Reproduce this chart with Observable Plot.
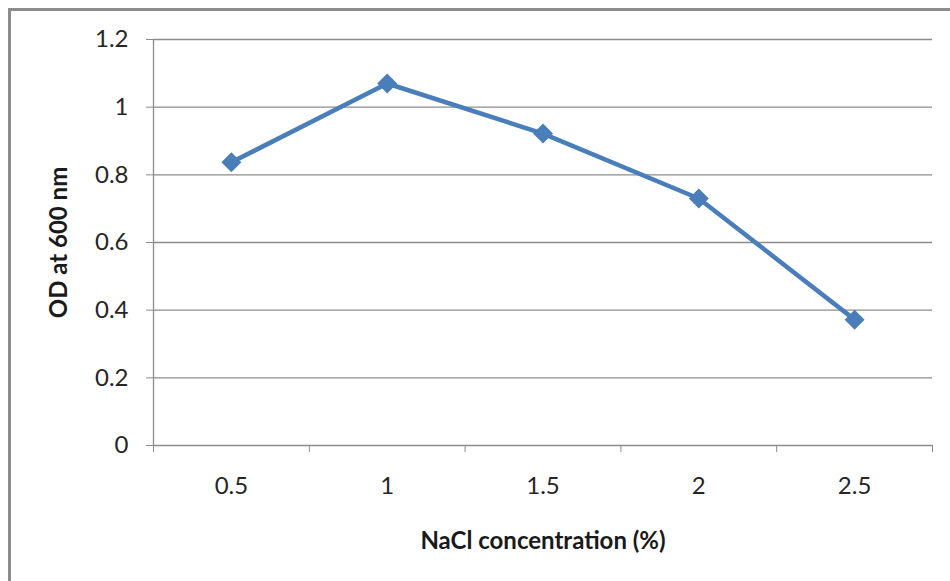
<!DOCTYPE html>
<html>
<head>
<meta charset="utf-8">
<script src="https://cdn.jsdelivr.net/npm/d3@7"></script>
<script src="https://cdn.jsdelivr.net/npm/@observablehq/plot@0.6"></script>
<style>
  html, body { margin: 0; padding: 0; background: #fff; }
  #chart { position: relative; width: 950px; height: 581px; }
  #frame { position: absolute; left: 8px; top: 8px; width: 950px; height: 600px;
           border-left: 3px solid #8c8c8c; border-top: 3px solid #8c8c8c; box-sizing: border-box; pointer-events: none; }
</style>
</head>
<body>
<div id="chart"><div id="frame"></div></div>
<script>
const categories = [0.5, 1, 1.5, 2, 2.5];
const odValues = [0.837, 1.07, 0.922, 0.73, 0.372];
const yTicks = [0, 0.2, 0.4, 0.6, 0.8, 1, 1.2];
const xBoundaries = [0.25, 0.75, 1.25, 1.75, 2.25, 2.75];
const xTitle = "NaCl concentration (%)";
const yTitle = "OD at 600 nm";

const data = categories.map((c, i) => ({x: c, y: odValues[i]}));
const blue = "#4a7ebb";
const font = "Lato, 'Open Sans', sans-serif";

const chart = Plot.plot({
  width: 950,
  height: 581,
  marginLeft: 153,
  marginRight: 18,
  marginTop: 39,
  marginBottom: 136,
  style: {fontFamily: font, fontSize: "24px", color: "#262626", background: "transparent"},
  x: {domain: [0.25, 2.75], axis: null},
  y: {domain: [0, 1.2], axis: null},
  marks: [
    Plot.ruleY(yTicks, {y: d => d, stroke: "#8c8c8c", strokeWidth: 1.3}),
    Plot.ruleX([0.25], {stroke: "#8c8c8c", strokeWidth: 1.3}),
    Plot.axisY({ticks: yTicks, tickSize: 7, tickPadding: 18, stroke: "#8c8c8c", tickFormat: d => String(d), label: null, fill: "#262626", fontSize: 24}),
    Plot.axisX({ticks: xBoundaries, tickSize: 7, tickFormat: () => "", stroke: "#8c8c8c", label: null}),
    Plot.axisX({ticks: categories, tickSize: 0, tickPadding: 31, tickFormat: d => String(d), label: null, fill: "#262626", fontSize: 24}),
    Plot.line(data, {x: "x", y: "y", stroke: blue, strokeWidth: 4.5}),
    Plot.dot(data, {x: "x", y: "y", symbol: "diamond2", r: 9, fill: blue, stroke: "none"}),
    Plot.text([xTitle], {frameAnchor: "bottom", lineAnchor: "middle", textAnchor: "middle", dy: 96, fontWeight: "bold", fontSize: 24, fill: "#1a1a1a"}),
    Plot.text([yTitle], {frameAnchor: "left", lineAnchor: "middle", textAnchor: "middle", dx: -94, rotate: -90, fontWeight: "bold", fontSize: 24, fill: "#1a1a1a"})
  ]
});
document.getElementById("chart").prepend(chart);
</script>
</body>
</html>
